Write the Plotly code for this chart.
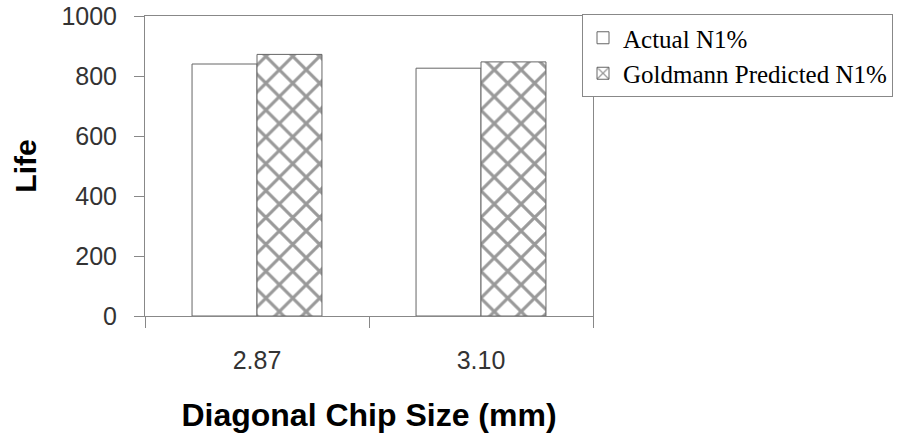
import plotly.graph_objects as go

categories = ["2.87", "3.10"]
actual = [840, 826]
goldmann = [872, 847]
series_names = ["Actual N1%", "Goldmann Predicted N1%"]
y_ticks = [0, 200, 400, 600, 800, 1000]

fig = go.Figure()
fig.add_trace(go.Bar(
    x=categories, y=actual, name=series_names[0],
    marker=dict(color="white", line=dict(color="#666666", width=1)),
))
fig.add_trace(go.Bar(
    x=categories, y=goldmann, name=series_names[1],
    marker=dict(color="white", line=dict(color="#666666", width=1),
                pattern=dict(shape="x", size=19, solidity=0.3,
                             fgcolor="#333333", bgcolor="white")),
))

fig.update_layout(
    width=902, height=433,
    margin=dict(l=145, r=309, t=16, b=117, autoexpand=False),
    paper_bgcolor="white", plot_bgcolor="white",
    barmode="group", bargap=0.42, bargroupgap=0,
    showlegend=True,
    legend=dict(
        x=(582 - 145) / 448, y=(316 - 14) / 300, xanchor="left", yanchor="top",
        xref="paper", yref="paper",
        bordercolor="#888888", borderwidth=1, bgcolor="white",
        font=dict(family="Liberation Serif", size=25, color="black"),
        tracegroupgap=0, itemwidth=30,
    ),
    font=dict(family="Liberation Sans"),
)

fig.update_xaxes(
    type="category", tickson="boundaries",
    showline=True, linecolor="#888888", linewidth=1, mirror=True,
    ticks="outside", ticklen=11, tickcolor="#888888",
    showgrid=False, ticklabelstandoff=22,
    tickfont=dict(family="Liberation Sans", size=25, color="#333333"),
    title=dict(text="<b>Diagonal Chip Size (mm)</b>", standoff=33,
               font=dict(family="Liberation Sans", size=32, color="black")),
)
fig.update_yaxes(
    range=[0, 1000], tickvals=y_ticks,
    showline=True, linecolor="#888888", linewidth=1, mirror=True,
    ticks="outside", ticklen=10, tickcolor="#888888",
    showgrid=False, zeroline=False, ticklabelstandoff=12,
    tickfont=dict(family="Liberation Sans", size=25, color="#333333"),
    title=dict(text="<b>Life</b>", standoff=15,
               font=dict(family="Liberation Sans", size=30, color="black")),
)

fig.write_html("out.html")
